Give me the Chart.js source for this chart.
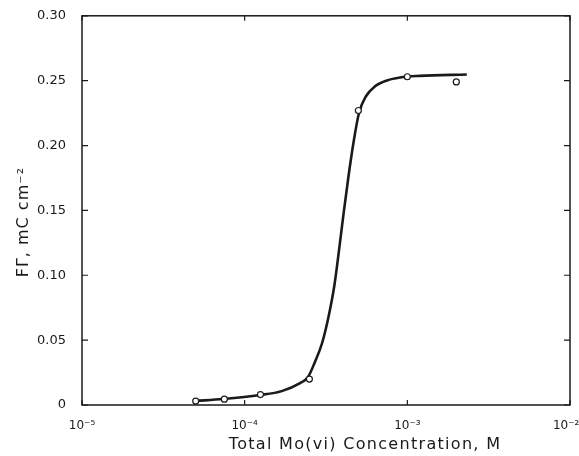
<!DOCTYPE html>
<html>
<head>
<meta charset="utf-8">
<script src="https://cdn.jsdelivr.net/npm/chart.js@4"></script>
<style>
  html, body { margin: 0; padding: 0; background: #fff; }
  #wrap { width: 579px; height: 456px; }
</style>
</head>
<body>
<div id="wrap"><canvas id="surfaceChart"></canvas></div>
<script>
// Measured points (open circles)
const pointConc = [5e-5, 7.5e-5, 1.25e-4, 2.5e-4, 5e-4, 1e-3, 2e-3];
const pointCharge = [0.003, 0.0045, 0.008, 0.020, 0.227, 0.253, 0.249];

// Smooth fitted curve
const curveConc = [5e-5, 7.36e-5, 1.24e-4, 1.69e-4, 2.19e-4, 2.45e-4, 2.70e-4, 2.99e-4, 3.30e-4, 3.56e-4,
    3.80e-4, 4.05e-4, 4.35e-4, 4.66e-4, 5.04e-4, 5.57e-4, 6.32e-4, 7.5e-4, 9.02e-4, 1.19e-3, 2.32e-3];
const curveCharge = [0.0031, 0.0046, 0.0077, 0.0107, 0.0169, 0.0215, 0.033, 0.0476, 0.0698, 0.0921,
    0.119, 0.147, 0.1765, 0.2018, 0.2249, 0.238, 0.2456, 0.2502, 0.2525, 0.2537, 0.2548];

// Axis ticks
const xTicks = [1e-5, 1e-4, 1e-3, 1e-2];
const xTickLabels = ['10\u207B\u2075', '10\u207B\u2074', '10\u207B\u00B3', '10\u207B\u00B2  '];
const yTicks = [0, 0.05, 0.10, 0.15, 0.20, 0.25, 0.30];

const xTitle = 'Total Mo(vi) Concentration, M';
const yTitle = 'F\u0393, mC cm\u207B\u00B2';

const ink = '#1a1a1a';
const font = 'DejaVu Sans';

// Frame, inward ticks and axis titles
const framePlugin = {
    id: 'frame',
    afterDraw(chart) {
        const { ctx, chartArea: a, scales } = chart;
        ctx.save();
        ctx.strokeStyle = ink;
        ctx.lineWidth = 1.5;
        ctx.strokeRect(a.left, a.top, a.right - a.left, a.bottom - a.top);

        ctx.lineWidth = 1.2;
        ctx.beginPath();
        yTicks.forEach(v => {
            const y = scales.y.getPixelForValue(v);
            ctx.moveTo(a.left, y); ctx.lineTo(a.left + 6, y);
            ctx.moveTo(a.right, y); ctx.lineTo(a.right - 6, y);
        });
        xTicks.forEach(v => {
            const x = scales.x.getPixelForValue(v);
            ctx.moveTo(x, a.bottom); ctx.lineTo(x, a.bottom - 5);
            ctx.moveTo(x, a.top); ctx.lineTo(x, a.top + 5);
        });
        ctx.stroke();

        ctx.fillStyle = ink;
        ctx.font = '16px "' + font + '"';
        ctx.letterSpacing = '1.3px';
        ctx.textAlign = 'center';
        ctx.textBaseline = 'middle';
        ctx.fillText(xTitle, a.left + (a.right - a.left) * 0.58, 445);

        ctx.letterSpacing = '1px';
        ctx.translate(24, a.top + (a.bottom - a.top) * 0.53);
        ctx.rotate(-Math.PI / 2);
        ctx.fillText(yTitle, 0, 0);
        ctx.restore();
    }
};

const ctx = document.getElementById('surfaceChart').getContext('2d');
new Chart(ctx, {
    type: 'scatter',
    data: {
        datasets: [
            {
                data: pointConc.map((x, i) => ({ x, y: pointCharge[i] })),
                pointRadius: 3,
                pointBorderWidth: 1.2,
                pointBorderColor: ink,
                pointBackgroundColor: '#fff',
                showLine: false,
                order: 0
            },
            {
                data: curveConc.map((x, i) => ({ x, y: curveCharge[i] })),
                showLine: true,
                borderColor: ink,
                borderWidth: 2.6,
                pointRadius: 0,
                cubicInterpolationMode: 'monotone',
                order: 1
            }
        ]
    },
    options: {
        responsive: true,
        maintainAspectRatio: false,
        animation: false,
        layout: { padding: { left: 0, right: 9, top: 14, bottom: 0 } },
        plugins: {
            legend: { display: false },
            tooltip: { enabled: false }
        },
        scales: {
            x: {
                type: 'logarithmic',
                min: 1e-5,
                max: 1e-2,
                grid: { display: false },
                border: { display: false },
                afterBuildTicks: scale => { scale.ticks = xTicks.map(v => ({ value: v })); },
                afterFit: scale => {
                    scale.height = 51;
                    scale.paddingLeft = 0;
                    scale.paddingRight = 0;
                },
                ticks: {
                    padding: 6,
                    color: ink,
                    font: { family: font, size: 12 },
                    maxRotation: 0,
                    autoSkip: false,
                    callback: (v) => xTickLabels[xTicks.indexOf(v)] || ''
                }
            },
            y: {
                min: 0,
                max: 0.30,
                grid: { display: false },
                border: { display: false },
                afterBuildTicks: scale => { scale.ticks = yTicks.map(v => ({ value: v })); },
                afterFit: scale => { scale.width = 82; },
                ticks: {
                    padding: 8,
                    color: ink,
                    font: { family: font, size: 13 },
                    callback: v => v === 0 ? '0' : v.toFixed(2)
                }
            }
        }
    },
    plugins: [framePlugin]
});
</script>
</body>
</html>
